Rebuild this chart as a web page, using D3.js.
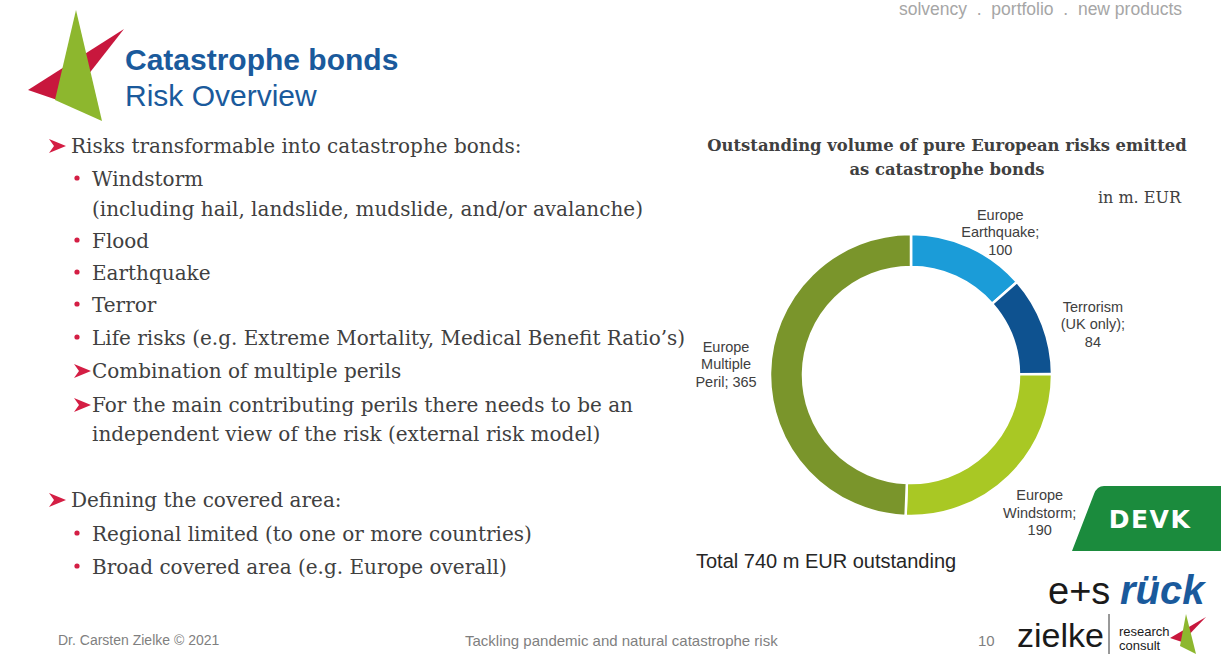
<!DOCTYPE html>
<html>
<head>
<meta charset="utf-8">
<script src="https://cdn.jsdelivr.net/npm/d3@7"></script>
<style>
  body { margin: 0; background: #fff; }
  svg { display: block; }
</style>
</head>
<body>
<div id="slide"></div>
<script>
// chart data
const categories = ["Europe Earthquake", "Terrorism (UK only)", "Europe Windstorm", "Europe Multiple Peril"];
const values = [100, 84, 190, 365];
const labelLines = [
  ["Europe", "Earthquake;", "100"],
  ["Terrorism", "(UK only);", "84"],
  ["Europe", "Windstorm;", "190"],
  ["Europe", "Multiple", "Peril; 365"]
];
const sliceColors = ["#1b9cd8", "#0e5290", "#a9c824", "#7a952b"];
const totalOutstanding = 740;

// slide text
const bullets = [
  {lvl: 1, t: "Risks transformable into catastrophe bonds:"},
  {lvl: 2, t: "Windstorm"},
  {lvl: 3, t: "(including hail, landslide, mudslide, and/or avalanche)"},
  {lvl: 2, t: "Flood"},
  {lvl: 2, t: "Earthquake"},
  {lvl: 2, t: "Terror"},
  {lvl: 2, t: "Life risks (e.g. Extreme Mortality, Medical Benefit Ratio’s)"},
  {lvl: 4, t: "Combination of multiple perils"},
  {lvl: 4, t: "For the main contributing perils there needs to be an"},
  {lvl: 3, t: "independent view of the risk (external risk model)"},
  {lvl: 1, t: "Defining the covered area:"},
  {lvl: 2, t: "Regional limited (to one or more countries)"},
  {lvl: 2, t: "Broad covered area (e.g. Europe overall)"}
];
const bulletY = [153, 186, 216, 248, 280, 312, 345, 378, 412, 441, 507, 541, 574];

const W = 1221, H = 654;
const svg = d3.select("#slide").append("svg")
  .attr("width", W).attr("height", H);
svg.append("rect").attr("width", W).attr("height", H).attr("fill", "#fff");

// header
svg.append("text").attr("x", 1182).attr("y", 15)
  .attr("text-anchor", "end")
  .style("font", "17.5px 'Liberation Sans', Arial, sans-serif")
  .attr("fill", "#a6a6a6")
  .attr("xml:space", "preserve")
  .text("solvency  .  portfolio  .  new products");

// logo triangles
svg.append("polygon").attr("points", "28,90 124,29 66,103").attr("fill", "#c8173d");
svg.append("polygon").attr("points", "76,10 55,100 102,121").attr("fill", "#8db72e");

svg.append("text").attr("x", 125).attr("y", 70)
  .style("font", "bold 30px 'Liberation Sans', Arial, sans-serif")
  .attr("fill", "#1a5a9c").text("Catastrophe bonds");
svg.append("text").attr("x", 125).attr("y", 106)
  .style("font", "30px 'Liberation Sans', Arial, sans-serif")
  .attr("fill", "#1a5a9c").text("Risk Overview");

// bullet list
const arrowPath = "M0,-7 L17,0 L0,7 L5,0 Z";
const list = svg.append("g");
bullets.forEach((b, i) => {
  const y = bulletY[i];
  let tx;
  if (b.lvl === 1) {
    list.append("path").attr("d", arrowPath)
      .attr("transform", `translate(49,${y - 7})`).attr("fill", "#d41e44");
    tx = 71;
  } else if (b.lvl === 4) {
    list.append("path").attr("d", arrowPath)
      .attr("transform", `translate(74,${y - 7})`).attr("fill", "#d41e44");
    tx = 92;
  } else if (b.lvl === 2) {
    list.append("circle").attr("cx", 77).attr("cy", y - 8).attr("r", 2.6).attr("fill", "#d41e44");
    tx = 92;
  } else {
    tx = 92;
  }
  list.append("text").attr("x", tx).attr("y", y)
    .style("font", "20px 'DejaVu Serif', 'Liberation Serif', serif")
    .attr("fill", "#404040").text(b.t);
});

// chart title
const titleG = svg.append("g")
  .style("font", "bold 16.4px 'DejaVu Serif', serif")
  .attr("fill", "#404040").attr("text-anchor", "middle");
titleG.append("text").attr("x", 947).attr("y", 151).text("Outstanding volume of pure European risks emitted");
titleG.append("text").attr("x", 947).attr("y", 175).text("as catastrophe bonds");

svg.append("text").attr("x", 1181).attr("y", 203).attr("text-anchor", "end")
  .style("font", "16px 'DejaVu Serif', serif").attr("fill", "#404040").text("in m. EUR");

// donut
const cx = 911, cy = 375, rOuter = 141, rInner = 108;
const pie = d3.pie().sort(null).value(d => d)(values);
const arc = d3.arc().innerRadius(rInner).outerRadius(rOuter);
const donut = svg.append("g").attr("transform", `translate(${cx},${cy})`);
donut.selectAll("path").data(pie).join("path")
  .attr("d", arc)
  .attr("fill", (d, i) => sliceColors[i])
  .attr("stroke", "#fff").attr("stroke-width", 2.5);

// data labels: placed along a label arc, then nudged like the original layout
const labelArc = d3.arc().innerRadius(185).outerRadius(185);
const nudge = [[13, 26], [9, 15], [0, 5], [0, -7]];
const labels = donut.selectAll("g.lbl").data(pie).join("g")
  .attr("class", "lbl")
  .attr("transform", (d, i) => {
    const c = labelArc.centroid(d);
    return `translate(${c[0] + nudge[i][0]},${c[1] + nudge[i][1]})`;
  });
labels.each(function(d, i) {
  const lines = labelLines[i];
  const g = d3.select(this);
  lines.forEach((ln, k) => {
    g.append("text")
      .attr("x", 0).attr("y", (k - (lines.length - 1) / 2) * 17.5 + 5)
      .attr("text-anchor", "middle")
      .style("font", "14.5px 'Liberation Sans', Arial, sans-serif")
      .attr("fill", "#404040").text(ln);
  });
});

svg.append("text").attr("x", 696).attr("y", 568)
  .style("font", "20px 'Liberation Sans', Arial, sans-serif")
  .attr("fill", "#262626").text(`Total ${totalOutstanding} m EUR outstanding`);

// DEVK logo
svg.append("path")
  .attr("d", "M1104,486 L1221,486 L1221,551 L1072,551 L1094,494 Q1097,486 1104,486 Z")
  .attr("fill", "#1b8b3d");
svg.append("text").attr("x", 1150).attr("y", 528).attr("text-anchor", "middle")
  .style("font", "bold 25px 'DejaVu Sans', sans-serif")
  .attr("fill", "#fff").attr("letter-spacing", 1.5).text("DEVK");

// e+s rück logo
svg.append("text").attr("x", 1048).attr("y", 604)
  .style("font", "300 38px 'Liberation Sans', Arial, sans-serif")
  .attr("fill", "#1a1a1a").text("e+s");
svg.append("text").attr("x", 1120).attr("y", 604)
  .style("font", "italic bold 40px 'Liberation Sans', Arial, sans-serif")
  .attr("fill", "#1a5a9c").text("rück");

// zielke logo
svg.append("text").attr("x", 1017).attr("y", 647)
  .style("font", "34px 'Liberation Sans Narrow', 'Liberation Sans', Arial, sans-serif")
  .attr("fill", "#1a1a1a").text("zielke");
svg.append("line").attr("x1", 1109).attr("x2", 1109).attr("y1", 614).attr("y2", 654)
  .attr("stroke", "#333").attr("stroke-width", 1);
svg.append("text").attr("x", 1119).attr("y", 636)
  .style("font", "13px 'Liberation Sans Narrow', 'Liberation Sans', sans-serif")
  .attr("fill", "#1a1a1a").text("research");
svg.append("text").attr("x", 1119).attr("y", 650)
  .style("font", "13px 'Liberation Sans Narrow', 'Liberation Sans', sans-serif")
  .attr("fill", "#1a1a1a").text("consult");
svg.append("polygon").attr("points", "1170,638 1206,617 1182,642").attr("fill", "#c8173d");
svg.append("polygon").attr("points", "1186,614 1180,646 1196,654").attr("fill", "#8db72e");

// footer
const foot = "'Liberation Sans Narrow', 'Liberation Sans', sans-serif";
svg.append("text").attr("x", 58).attr("y", 645).style("font", "14px " + foot)
  .attr("fill", "#7f7f7f").text("Dr. Carsten Zielke  © 2021");
svg.append("text").attr("x", 465).attr("y", 646).style("font", "15px " + foot)
  .attr("fill", "#7f7f7f").text("Tackling pandemic and natural catastrophe risk");
svg.append("text").attr("x", 978).attr("y", 646).style("font", "15px " + foot)
  .attr("fill", "#7f7f7f").text("10");
</script>
</body>
</html>
